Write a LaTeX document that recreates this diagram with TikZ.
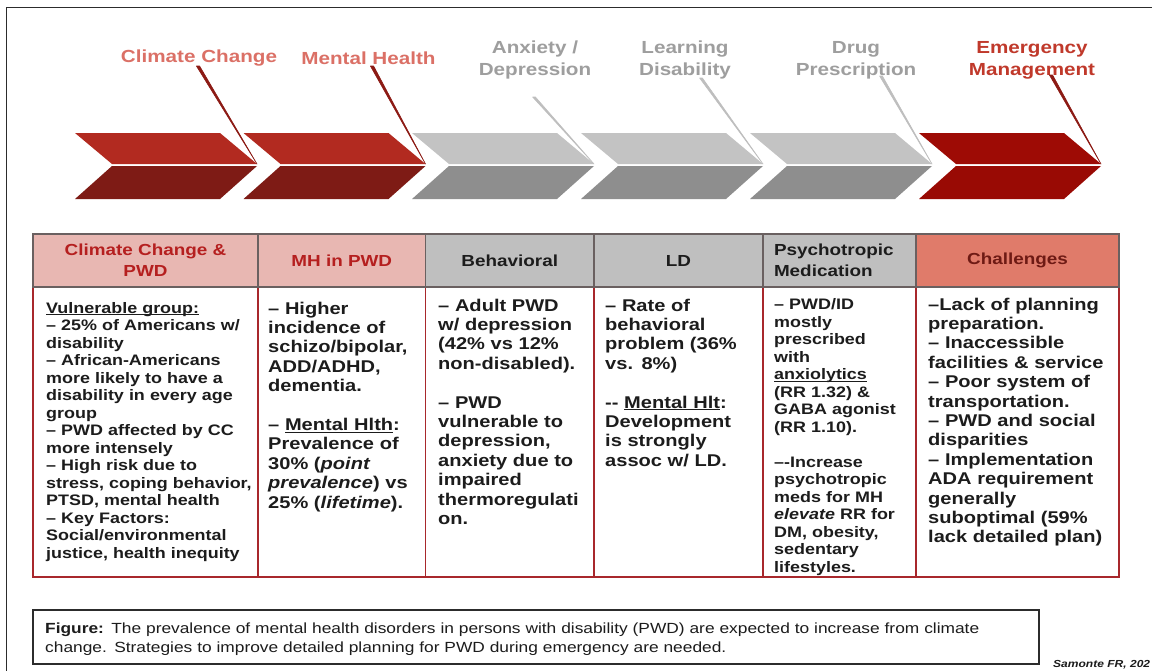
\documentclass[tikz,border=0pt]{standalone}
\usepackage{fontspec}
\setmainfont[FakeStretch=1.18]{Liberation Sans}
\newcommand\setfs[2]{\fontsize{#1}{#2}\selectfont}
% underline that does not change the line depth
\newsavebox\ulbox
\newcommand\ulx[1]{\sbox\ulbox{#1}\smash{\rlap{\rule[-2.3pt]{\wd\ulbox}{0.9pt}}}\usebox\ulbox}

% palette
\definecolor{chredA}{HTML}{B22A20}
\definecolor{chredB}{HTML}{7E1B15}
\definecolor{chgrayA}{HTML}{C3C3C3}
\definecolor{chgrayB}{HTML}{8E8E8E}
\definecolor{chdarkA}{HTML}{9E0B05}
\definecolor{chdarkB}{HTML}{990A04}
\definecolor{lblsalmon}{HTML}{DB7066}
\definecolor{lblgray}{HTML}{9E9E9E}
\definecolor{lblred}{HTML}{C0392B}
\definecolor{leadred}{HTML}{8C1A14}
\definecolor{leadgray}{HTML}{BEBEBE}
\definecolor{hdpink}{HTML}{E8B7B2}
\definecolor{hdgray}{HTML}{BFBFBF}
\definecolor{hdsalmon}{HTML}{E07B6A}
\definecolor{hdred}{HTML}{B51F1F}
\definecolor{hdbrown}{HTML}{6E1A14}
\definecolor{hdline}{HTML}{6A6060}
\definecolor{bodyred}{HTML}{A8282C}
\definecolor{txt}{HTML}{1C1C1C}
\definecolor{framec}{HTML}{2C2C2C}

\begin{document}
\begin{tikzpicture}[x=1pt,y=-1pt,
  toplabel/.style={align=center, inner sep=0pt, font=\bfseries\setfs{17.5}{22}},
  leader/.style={fill=#1, draw=#1, line width=0.6pt, line join=round},
  hdr/.style={draw=hdline, line width=1.1pt, inner sep=0pt, align=center,
              minimum height=53pt, font=\bfseries\setfs{16}{21}},
  bodybox/.style={draw=bodyred, line width=1.6pt},
  body/.style={anchor=base west, align=left, inner sep=0pt, text=txt,
               font=\bfseries\setfs{15.2}{17.5}},
  bodyL/.style={body, font=\bfseries\setfs{17}{19.4}},
  capbox/.style={draw=framec, line width=1.5pt, inner sep=0pt},
]
\useasboundingbox (0,0) rectangle (1152,670);
\fill[white] (0,0) rectangle (1152,670);

% outer frame (left and top edges)
\draw[framec, line width=1pt] (6.5,675) -- (6.5,7) -- (1160,7);

% chevron arrows, each split into a lighter upper and darker lower half
\foreach \L/\ca/\cb/\n in {75/chredA/chredB/t1, 243.5/chredA/chredB/t2,
    412/chgrayA/chgrayB/t3, 581/chgrayA/chgrayB/t4,
    750/chgrayA/chgrayB/t5, 919/chdarkA/chdarkB/t6}{
  \fill[\ca] (\L,133) -- (\L+145,133) -- (\L+182,164) -- (\L+37,164) -- cycle;
  \fill[\cb] (\L+37,166) -- (\L+182,166) -- (\L+145,199) -- (\L,199) -- cycle;
  \coordinate (\n) at (\L+182,164);
}

% topic labels above the arrows
\node[toplabel, text=lblsalmon] (l1) at (199,58) {Climate Change};
\node[toplabel, text=lblsalmon] (l2) at (368.5,58) {Mental Health};
\node[toplabel, text=lblgray] (l3) at (535,60) {Anxiety /\\Depression};
\node[toplabel, text=lblgray] (l4) at (685,60) {Learning\\Disability};
\node[toplabel, text=lblgray] (l5) at (856,60) {Drug\\Prescription};
\node[toplabel, text=lblred] (l6) at (1032,60) {Emergency\\Management};

% leader lines from labels to arrow tips
\coordinate (a1) at (198,66);
\coordinate (a2) at (372,66);
\coordinate (a3) at (534,97);
\coordinate (a4) at (701,78);
\coordinate (a5) at (881,76);
\coordinate (a6) at (1051,75);
\filldraw[leader=leadred] ([xshift=-1.6pt]a1) -- (t1) -- ([xshift=1.6pt]a1) -- cycle;
\filldraw[leader=leadred] ([xshift=-1.6pt]a2) -- (t2) -- ([xshift=1.6pt]a2) -- cycle;
\filldraw[leader=leadgray] ([xshift=-1.4pt]a3) -- (t3) -- ([xshift=1.4pt]a3) -- cycle;
\filldraw[leader=leadgray] ([xshift=-1.4pt]a4) -- (t4) -- ([xshift=1.4pt]a4) -- cycle;
\filldraw[leader=leadgray] ([xshift=-1.4pt]a5) -- (t5) -- ([xshift=1.4pt]a5) -- cycle;
\filldraw[leader=leadred] ([xshift=-1.6pt]a6) -- (t6) -- ([xshift=1.6pt]a6) -- cycle;

% table body frames
\draw[bodybox] (33,287) rectangle (258,577);
\draw[bodybox] (258,287) rectangle (425.5,577);
\draw[bodybox] (425.5,287) rectangle (594,577);
\draw[bodybox] (594,287) rectangle (763,577);
\draw[bodybox] (763,287) rectangle (916,577);
\draw[bodybox] (916,287) rectangle (1119,577);

% table headers
\node[hdr, fill=hdpink, text=hdred, minimum width=225pt] (h1) at (145.5,260.5) {Climate Change \&\\PWD};
\node[hdr, fill=hdpink, text=hdred, minimum width=167.5pt] (h2) at (341.75,260.5) {MH in PWD};
\node[hdr, fill=hdgray, text=txt, minimum width=168.5pt] (h3) at (509.75,260.5) {Behavioral};
\node[hdr, fill=hdgray, text=txt, minimum width=169pt] (h4) at (678.5,260.5) {LD};
\node[hdr, fill=hdgray, text=txt, minimum width=153pt, text width=131pt,
      inner xsep=11pt, align=left] (h5) at (839.5,260.5) {Psychotropic\\Medication};
\node[hdr, fill=hdsalmon, text=hdbrown, minimum width=203pt] (h6) at (1017.5,260.5) {Challenges};

% table body texts
\node[body, text width=210pt] (b1) at (46,313) {%
\ulx{Vulnerable group:}\\
– 25\% of Americans w/\\
disability\\
– African-Americans\\
more likely to have a\\
disability in every age\\
group\\
– PWD affected by CC\\
more intensely\\
– High risk due to\\
stress, coping behavior,\\
PTSD, mental health\\
– Key Factors:\\
Social/environmental\\
justice, health inequity};

\node[bodyL, text width=155pt] (b2) at (268,314) {%
– Higher\\
incidence of\\
schizo/bipolar,\\
ADD/ADHD,\\
dementia.\\[19.4pt]
– \ulx{Mental Hlth}:\\
Prevalence of\\
30\% (\textit{point}\\
\textit{prevalence}) vs\\
25\% (\textit{lifetime}).};

\node[bodyL, text width=155pt] (b3) at (438,311) {%
– Adult PWD\\
w/ depression\\
(42\% vs 12\%\\
non-disabled).\\[19.4pt]
– PWD\\
vulnerable to\\
depression,\\
anxiety due to\\
impaired\\
thermoregulati\\
on.};

\node[bodyL, text width=155pt] (b4) at (605,311) {%
– Rate of\\
behavioral\\
problem (36\%\\
vs. 8\%)\\[19.4pt]
-{}- \ulx{Mental Hlt}:\\
Development\\
is strongly\\
assoc w/ LD.};

\node[body, text width=140pt] (b5) at (774,309.5) {%
– PWD/ID\\
mostly\\
prescribed\\
with\\
\ulx{anxiolytics}\\
(RR 1.32) \&\\
GABA agonist\\
(RR 1.10).\\[17.5pt]
–-Increase\\
psychotropic\\
meds for MH\\
\textit{elevate} RR for\\
DM, obesity,\\
sedentary\\
lifestyles.};

\node[bodyL, text width=188pt] (b6) at (928,310) {%
–Lack of planning\\
preparation.\\
– Inaccessible\\
facilities \& service\\
– Poor system of\\
transportation.\\
– PWD and social\\
disparities\\
– Implementation\\
ADA requirement\\
generally\\
suboptimal (59\%\\
lack detailed plan)};

% caption box
\node[capbox, minimum width=1006pt, minimum height=54pt] (cap) at (536,637) {};
\node[anchor=base west, align=left, inner sep=0pt, text width=990pt, text=txt,
      font=\setfs{14.7}{19}] (captxt) at (45,633) {%
\textbf{Figure:} The prevalence of mental health disorders in persons with disability (PWD) are expected to increase from climate\\
change. Strategies to improve detailed planning for PWD during emergency are needed.};

% credit line
\node[anchor=base west, inner sep=0pt, text=txt, font=\bfseries\itshape\setfs{10.2}{12}] (credit) at (1053,667) {Samonte FR, 202};
\end{tikzpicture}
\end{document}
